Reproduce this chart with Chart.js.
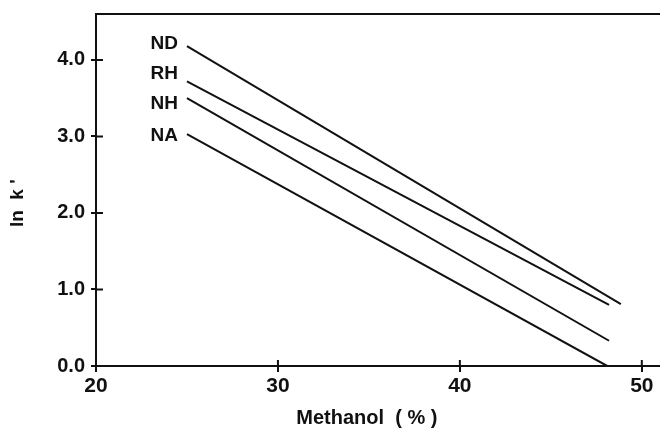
<!DOCTYPE html>
<html>
<head>
<meta charset="utf-8">
<script src="https://cdn.jsdelivr.net/npm/chart.js@4.4.1/dist/chart.umd.min.js"></script>
<style>
  html, body { margin: 0; padding: 0; background: #fff; }
  #wrap { width: 660px; height: 431px; position: relative; }
</style>
</head>
<body>
<div id="wrap"><canvas id="c"></canvas></div>
<script>
// ln k' vs methanol %, straight lines (start / end)
const compounds = ['ND', 'RH', 'NH', 'NA'];
const methanolPct = [
  [25, 48.85],
  [25, 48.2],
  [25, 48.2],
  [25, 48.1],
];
const lnK = [
  [4.18, 0.81],
  [3.72, 0.80],
  [3.50, 0.33],
  [3.03, 0.00],
];
const xTicks = [20, 30, 40, 50];
const yTicks = [0, 1, 2, 3, 4];

const ink = '#111';
const font = 'Liberation Sans, Arial, sans-serif';
// small vertical nudges so the names sit like in the original
const labelNudge = [-2, -8, 6, 2];

const innerTicks = {
  id: 'innerTicks',
  afterDraw(chart) {
    const { ctx, chartArea: a, scales: { x, y } } = chart;
    ctx.save();
    ctx.strokeStyle = ink;
    ctx.lineWidth = 2;
    ctx.beginPath();
    x.ticks.forEach(t => {
      const px = x.getPixelForValue(t.value);
      ctx.moveTo(px, a.bottom);
      ctx.lineTo(px, a.bottom - 6);
    });
    y.ticks.forEach(t => {
      const py = y.getPixelForValue(t.value);
      ctx.moveTo(a.left, py);
      ctx.lineTo(a.left + 7, py);
    });
    ctx.stroke();
    ctx.restore();
  },
};

const lineNames = {
  id: 'lineNames',
  afterDatasetsDraw(chart) {
    const { ctx } = chart;
    ctx.save();
    ctx.fillStyle = ink;
    ctx.font = `bold 19px ${font}`;
    ctx.textAlign = 'right';
    ctx.textBaseline = 'middle';
    chart.data.datasets.forEach((ds, i) => {
      const p = chart.getDatasetMeta(i).data[0];
      ctx.fillText(ds.label, p.x - 9, p.y + labelNudge[i]);
    });
    ctx.restore();
  },
};

new Chart(document.getElementById('c'), {
  type: 'line',
  data: {
    datasets: compounds.map((name, i) => ({
      label: name,
      data: methanolPct[i].map((m, j) => ({ x: m, y: lnK[i][j] })),
      borderColor: ink,
      borderWidth: 2,
      pointRadius: 0,
      tension: 0,
      fill: false,
    })),
  },
  options: {
    responsive: true,
    maintainAspectRatio: false,
    animation: false,
    layout: { padding: { top: 14, right: 0, bottom: 0, left: 0 } },
    plugins: {
      legend: { display: false },
      tooltip: { enabled: false },
    },
    scales: {
      x: {
        type: 'linear',
        min: 20,
        max: 51,
        afterBuildTicks: s => { s.ticks = xTicks.map(v => ({ value: v })); },
        ticks: {
          color: ink,
          font: { family: font, size: 21, weight: 'bold' },
          padding: 2,
          maxRotation: 0,
          callback: v => String(v),
        },
        grid: { drawOnChartArea: false, tickLength: 6, color: ink, lineWidth: 2 },
        border: { color: ink, width: 2 },
        title: {
          display: true,
          text: 'Methanol  ( % )    ',
          color: ink,
          font: { family: font, size: 20, weight: 'bold' },
          padding: { top: 0, bottom: 1 },
        },
        afterFit: s => { s.height = 65; },
      },
      x2: {
        type: 'linear',
        position: 'top',
        min: 20,
        max: 51,
        ticks: { display: false },
        grid: { display: false },
        border: { color: ink, width: 2 },
        afterFit: s => { s.height = 0; },
      },
      y: {
        type: 'linear',
        min: 0,
        max: 4.6,
        afterBuildTicks: s => { s.ticks = yTicks.map(v => ({ value: v })); },
        ticks: {
          color: ink,
          font: { family: font, size: 20, weight: 'bold' },
          padding: 6,
          callback: v => v.toFixed(1),
        },
        grid: { drawOnChartArea: false, tickLength: 5, color: ink, lineWidth: 2 },
        border: { color: ink, width: 2 },
        title: {
          display: true,
          text: "ln  k '     ",
          color: ink,
          font: { family: font, size: 19, weight: 'bold' },
          padding: { top: 6, bottom: 0 },
        },
        afterFit: s => { s.width = 96; s.paddingTop = 0; s.paddingBottom = 0; },
      },
    },
  },
  plugins: [innerTicks, lineNames],
});
</script>
</body>
</html>
